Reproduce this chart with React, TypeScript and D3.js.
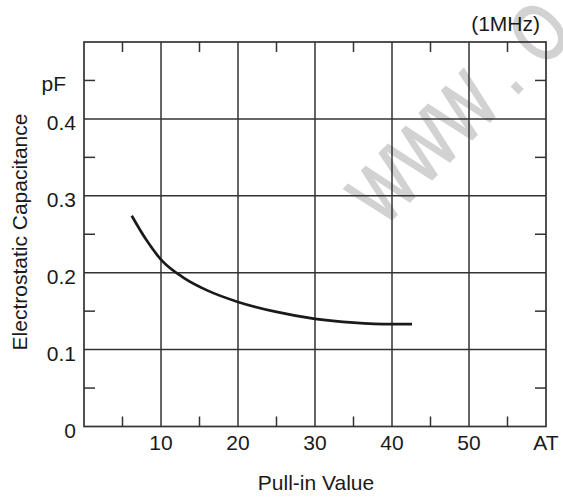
import React from "react";
import * as d3 from "d3";

const xMajorTicks = [10, 20, 30, 40, 50];
const xMinorTicks = [5, 15, 25, 35, 45, 55];
const yMajorTicks = [0.1, 0.2, 0.3, 0.4];
const yMinorTicks = [0.05, 0.15, 0.25, 0.35, 0.45];
const yTickLabels = ["0.1", "0.2", "0.3", "0.4"];

const pullIn = [6.2, 8, 10, 13, 16, 20, 25, 30, 35, 40, 42.6];
const capacitance = [0.274, 0.244, 0.217, 0.193, 0.177, 0.162, 0.149, 0.14, 0.135, 0.133, 0.133];

const W = 563;
const H = 497;
const left = 84;
const right = 546;
const top = 42;
const bottom = 426.5;

export default function App() {
  const x = d3.scaleLinear().domain([0, 60]).range([left, right]);
  const y = d3.scaleLinear().domain([0, 0.5]).range([bottom, top]);
  const pts = pullIn.map((v, i) => [v, capacitance[i]] as [number, number]);
  const line = d3
    .line<[number, number]>()
    .x((d) => x(d[0]))
    .y((d) => y(d[1]))
    .curve(d3.curveMonotoneX);
  const gridColor = "#333";
  const font = "Liberation Sans, Arial, sans-serif";
  return (
    <svg width={W} height={H} style={{ position: "absolute", left: 0, top: 0 }}>
      <rect width={W} height={H} fill="#fff" />
      <text
        transform="translate(383,228) rotate(-45) scale(0.75,1)"
        fontFamily={font}
        fontSize={80}
        fill="#d2d2d2"
        stroke="#d2d2d2"
        strokeWidth={2.5}
      >
        WWW<tspan dx={21}>.</tspan><tspan dx={31}>O</tspan>
      </text>
      {xMajorTicks.map((t) => (
        <line key={"xv" + t} x1={x(t)} x2={x(t)} y1={top} y2={bottom} stroke={gridColor} strokeWidth={1.5} />
      ))}
      {yMajorTicks.map((t) => (
        <line key={"yh" + t} x1={left} x2={right} y1={y(t)} y2={y(t)} stroke={gridColor} strokeWidth={1.5} />
      ))}
      {xMinorTicks.map((t) => (
        <g key={"xm" + t}>
          <line x1={x(t)} x2={x(t)} y1={bottom} y2={bottom - 10} stroke={gridColor} strokeWidth={1.5} />
          <line x1={x(t)} x2={x(t)} y1={top} y2={top + 10} stroke={gridColor} strokeWidth={1.5} />
        </g>
      ))}
      {yMinorTicks.map((t) => (
        <g key={"ym" + t}>
          <line x1={left} x2={left + 11} y1={y(t)} y2={y(t)} stroke={gridColor} strokeWidth={1.5} />
          <line x1={right} x2={right - 11} y1={y(t)} y2={y(t)} stroke={gridColor} strokeWidth={1.5} />
        </g>
      ))}
      <rect x={left} y={top} width={right - left} height={bottom - top} fill="none" stroke={gridColor} strokeWidth={1.7} />
      <path d={line(pts) || ""} fill="none" stroke="#1a1a1a" strokeWidth={2.7} />
      <g fontFamily={font} fontSize={21} fill="#1a1a1a">
        <text x={540} y={31} textAnchor="end">(1MHz)</text>
        {yMajorTicks.map((t, i) => (
          <text key={"yl" + t} x={76} y={y(t) + 11.5} textAnchor="end">
            {yTickLabels[i]}
          </text>
        ))}
        <text x={76} y={438} textAnchor="end">0</text>
        <text x={66} y={90.5} textAnchor="end">pF</text>
        {xMajorTicks.map((t) => (
          <text key={"xl" + t} x={x(t)} y={450} textAnchor="middle">
            {t}
          </text>
        ))}
        <text x={x(60)} y={450} textAnchor="middle">AT</text>
        <text x={316} y={490} textAnchor="middle">Pull-in Value</text>
        <text transform="translate(27,232) rotate(-90)" textAnchor="middle">Electrostatic Capacitance</text>
      </g>
    </svg>
  );
}
